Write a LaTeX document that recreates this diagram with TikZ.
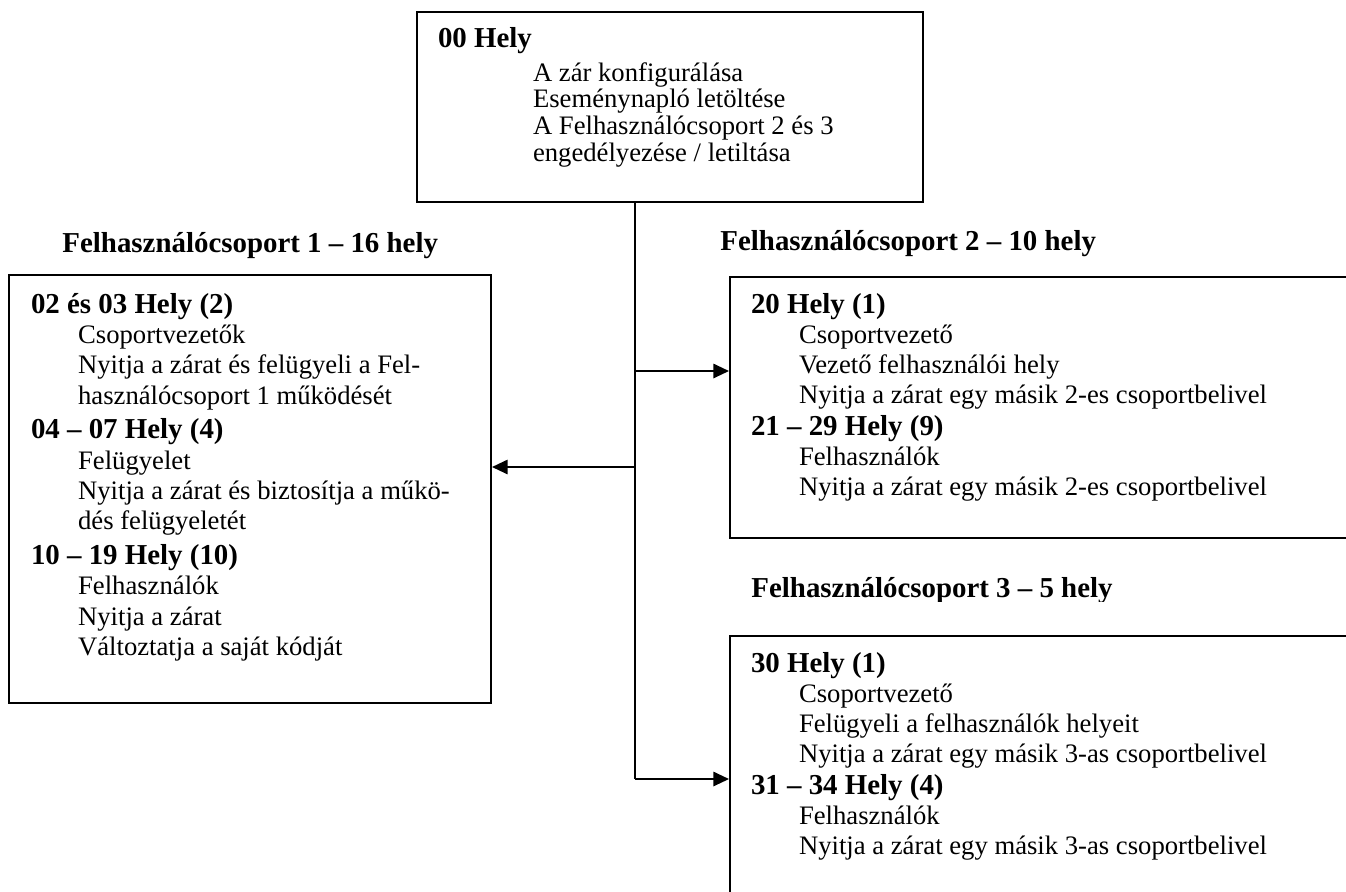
\documentclass[tikz,border=0pt]{standalone}
\usepackage{fontspec}
\setmainfont{Liberation Serif}
\usetikzlibrary{arrows.meta,fit}
\tikzset{
  box/.style={draw, line width=0.9pt, inner sep=0pt, fill=none},
  conn/.style={line width=0.9pt},
  arr/.style={line width=0.9pt, -{Triangle[length=7pt,width=6.4pt]}},
  txt/.style={anchor=base west, inner sep=0pt, outer sep=0pt},
  grp/.style={anchor=base west, inner sep=0pt, font=\bfseries\fontsize{13}{15}\selectfont},
}
\newcommand{\hd}[1]{{\bfseries\fontsize{13}{13.6}\selectfont #1}}
\begin{document}
\begin{tikzpicture}[x=0.45pt,y=-0.45pt]
\useasboundingbox (0,0) rectangle (1346,891);
\clip (0,0) rectangle (1346,891);
\fill[white] (0,0) rectangle (1346,891);

% boxes
\node[box, fit={(417,12) (923,202)}] (top) {};
\node[box, fit={(9,275) (491,703)}] (b1) {};
\node[box, fit={(730,277) (1400,538)}] (b2) {};
\node[box, fit={(730,636) (1400,930)}] (b3) {};

% group labels
\node[grp] (g1) at (62,252) {Felhasználócsoport 1 – 16 hely};
\node[grp] (g2) at (720,250) {Felhasználócsoport 2 – 10 hely};
\begin{scope}
\clip (740,560) rectangle (1200,601);
\node[grp] (g3) at (751,597) {Felhasználócsoport 3 – 5 hely};
\end{scope}

% top box text
\node[txt] (t0) at (438,47) {\parbox[t]{220pt}{\fontsize{12}{12}\selectfont
\hd{00 Hely}\\[3.3pt]
\hspace*{42.75pt}A zár konfigurálása\\
\hspace*{42.75pt}Eseménynapló letöltése\\
\hspace*{42.75pt}A Felhasználócsoport 2 és 3\\
\hspace*{42.75pt}engedélyezése / letiltása}};

% left box text
\node[txt] (t1) at (31,313) {\parbox[t]{210pt}{\fontsize{12}{13.65}\selectfont
\hd{02 és 03 Hely (2)}\\
\hspace*{21.2pt}Csoportvezetők\\
\hspace*{21.2pt}Nyitja a zárat és felügyeli a Fel-\\
\hspace*{21.2pt}használócsoport 1 működését\\[2pt]
\hd{04 – 07 Hely (4)}\\
\hspace*{21.2pt}Felügyelet\\
\hspace*{21.2pt}Nyitja a zárat és biztosítja a műkö-\\
\hspace*{21.2pt}dés felügyeletét\\[2pt]
\hd{10 – 19 Hely (10)}\\
\hspace*{21.2pt}Felhasználók\\
\hspace*{21.2pt}Nyitja a zárat\\
\hspace*{21.2pt}Változtatja a saját kódját}};

% box 2 text
\node[txt] (t2) at (751,313) {\parbox[t]{260pt}{\fontsize{12}{13.5}\selectfont
\hd{20 Hely (1)}\\
\hspace*{21.6pt}Csoportvezető\\
\hspace*{21.6pt}Vezető felhasználói hely\\
\hspace*{21.6pt}Nyitja a zárat egy másik 2-es csoportbelivel\\[1pt]
\hd{21 – 29 Hely (9)}\\
\hspace*{21.6pt}Felhasználók\\
\hspace*{21.6pt}Nyitja a zárat egy másik 2-es csoportbelivel}};

% box 3 text
\node[txt] (t3) at (751,672) {\parbox[t]{260pt}{\fontsize{12}{13.5}\selectfont
\hd{30 Hely (1)}\\
\hspace*{21.6pt}Csoportvezető\\
\hspace*{21.6pt}Felügyeli a felhasználók helyeit\\
\hspace*{21.6pt}Nyitja a zárat egy másik 3-as csoportbelivel\\[1pt]
\hd{31 – 34 Hely (4)}\\
\hspace*{21.6pt}Felhasználók\\
\hspace*{21.6pt}Nyitja a zárat egy másik 3-as csoportbelivel}};

% connectors
\coordinate (ja) at (635,371);
\coordinate (jb) at (635,467);
\coordinate (jc) at (635,779);
\draw[conn] (top.south -| jc) -- (jc);
\draw[arr] (ja) -- (b2.west |- ja);
\draw[arr] (jb) -- (b1.east |- jb);
\draw[arr] (jc) -- (b3.west |- jc);
\end{tikzpicture}
\end{document}
